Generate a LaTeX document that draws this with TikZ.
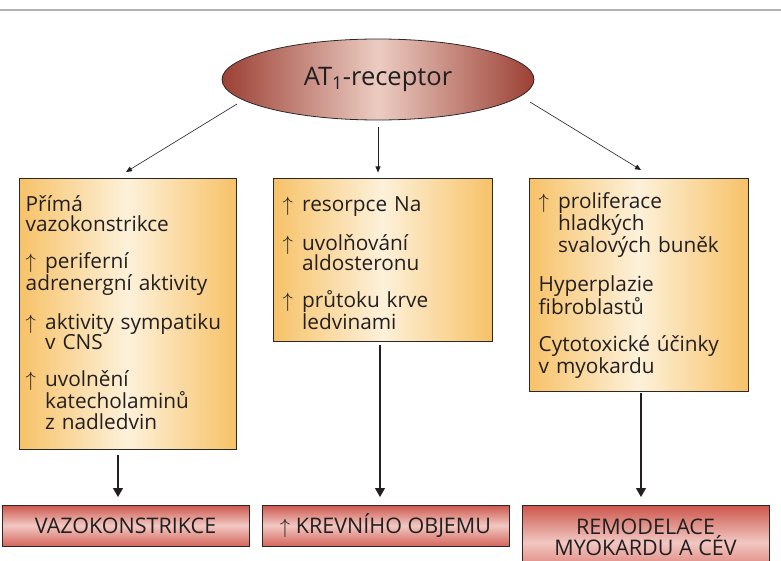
\documentclass[tikz,border=0pt]{standalone}
\usepackage{fontspec}
\setmainfont{Open Sans}
\usetikzlibrary{shapes.geometric,arrows.meta}
\definecolor{yedge}{RGB}{247,194,104}
\definecolor{ymid}{RGB}{253,241,218}
\definecolor{rtop}{RGB}{204,86,76}
\definecolor{rmid}{RGB}{242,200,194}
\definecolor{rbot}{RGB}{212,102,92}
\definecolor{edark}{RGB}{156,64,52}
\definecolor{elight}{RGB}{236,204,194}
\definecolor{ink}{RGB}{35,31,32}
\definecolor{boxline}{RGB}{45,40,40}
\definecolor{topline}{RGB}{178,178,178}
\newcommand{\upar}{\makebox[19.5pt][l]{\(\uparrow\)}}
\newcommand{\indt}{\hspace*{19.5pt}}
\newcommand{\boxfont}{\fontsize{20.8}{20.3}\selectfont}
\lineskiplimit=-30pt
\begin{document}
\begin{tikzpicture}[x=1pt,y=-1pt,
  ybox/.style={draw=boxline, line width=0.8pt, left color=yedge, right color=yedge, middle color=ymid, inner sep=0pt, outer sep=0pt},
  rbox/.style={draw=boxline, line width=0.8pt, top color=rtop, bottom color=rbot, middle color=rmid, inner sep=0pt, outer sep=0pt, text=ink, font=\fontsize{21.5}{21}\selectfont},
  btext/.style={anchor=base west, inner sep=0pt, text width=#1, align=left, text=ink, font=\boxfont},
  thinarrow/.style={draw=ink, line width=0.6pt, -{Triangle[length=6pt,width=5pt]}},
  thickarrow/.style={draw=ink, line width=1.2pt, -{Triangle[length=9pt,width=10pt]}}
]
\useasboundingbox (0,0) rectangle (781,561);
\draw[topline, line width=1.5pt] (0,10) -- (781,10);

% receptor ellipse
\node[ellipse, draw=boxline, line width=0.8pt, left color=edark, right color=edark, middle color=elight,
      minimum width=312pt, minimum height=81pt, inner sep=0pt, outer sep=0pt, text=ink,
      font=\fontsize{25.5}{25.5}\selectfont] (rec) at (378,79.5) {AT\textsubscript{1}-receptor};

% effect boxes
\node[ybox, minimum width=217pt, minimum height=271pt] (lbox) at (127.5,314) {};
\node[ybox, minimum width=219pt, minimum height=162.5pt] (mbox) at (382.5,259.75) {};
\node[ybox, minimum width=219pt, minimum height=212.5pt] (rbox) at (638.5,284.75) {};

\node[btext=212pt] (ltext) at (25.5,211.7) {Přímá\\
vazokonstrikce\\[16.7pt]
\upar periferní\\
adrenergní aktivity\\[16.7pt]
\upar aktivity sympatiku\\
\indt v CNS\\[16.7pt]
\upar uvolnění\\
\indt katecholaminů\\
\indt z nadledvin};

\node[btext=212pt] (mtext) at (282.5,211.7) {\upar resorpce Na\\[16.7pt]
\upar uvolňování\\
\indt aldosteronu\\[16.7pt]
\upar průtoku krve\\
\indt ledvinami};

\node[btext=212pt] (rtext) at (538.5,209) {\upar proliferace\\
\indt hladkých\\
\indt svalových buněk\\[16.7pt]
Hyperplazie\\
fibroblastů\\[16.7pt]
Cytotoxické účinky\\
v myokardu};

% outcome boxes
\node[rbox, minimum width=247pt, minimum height=41pt] (o1) at (125.5,525.5) {VAZOKONSTRIKCE};
\node[rbox, minimum width=247pt, minimum height=41pt] (o2) at (385.5,525.5) {\(\uparrow\) KREVNÍHO OBJEMU};
\node[rbox, minimum width=247pt, minimum height=75pt] (o3) at (645.5,542.5) {};
\node[anchor=base, inner sep=0pt, align=center, text=ink, font=\fontsize{21.5}{21}\selectfont] (o3text) at (645.5,555) {REMODELACE\\MYOKARDU A CÉV};

% connectors
\draw[thinarrow] ([shift={(-141,24.5)}]rec.center) -- ([shift={(-1.5,-6.5)}]lbox.north);
\draw[thinarrow] ([yshift=-7pt]rec.south) -- ([yshift=6pt]rec.south |- mbox.north);
\draw[thinarrow] ([shift={(152,22.5)}]rec.center) -- ([shift={(2.5,-8.5)}]rbox.north);

\draw[thickarrow] ([shift={(-9.5,5.5)}]lbox.south) -- ([shift={(-7.5,-8)}]o1.north);
\draw[thickarrow] ([shift={(-2.5,4)}]mbox.south) -- ([shift={(-5.5,-8)}]o2.north);
\draw[thickarrow] ([shift={(2.5,2)}]rbox.south) -- ([shift={(-4.5,-8)}]o3.north);
\end{tikzpicture}
\end{document}
